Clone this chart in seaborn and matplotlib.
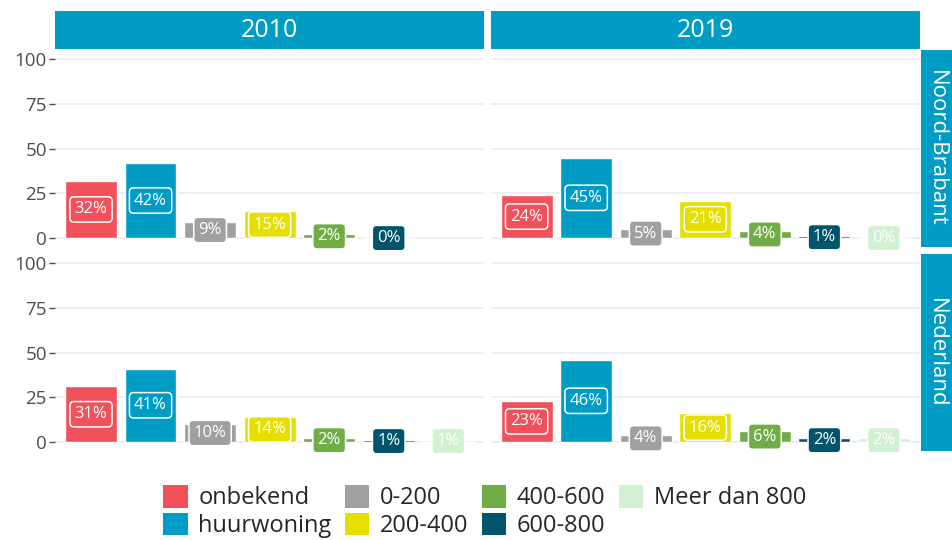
import numpy as np
import pandas as pd
import seaborn as sns
import matplotlib.pyplot as plt
from matplotlib.patches import Rectangle, Patch

# categories and shares (%) per region / year
klassen = ['onbekend', 'huurwoning', '0-200', '200-400', '400-600', '600-800', 'Meer dan 800']
kleuren = ['#F0515A', '#009CC5', '#A0A0A0', '#E6DF00', '#70AD47', '#00546B', '#D2F0D2']
regios = ['Noord-Brabant', 'Nederland']
jaren = ['2010', '2019']

nb_2010 = [32, 42, 9, 15, 2, 0, np.nan]
nb_2019 = [24, 45, 5, 21, 4, 1, 0]
nl_2010 = [31, 41, 10, 14, 2, 1, 1]
nl_2019 = [23, 46, 4, 16, 6, 2, 2]

waarden = {('Noord-Brabant', '2010'): nb_2010, ('Noord-Brabant', '2019'): nb_2019,
           ('Nederland', '2010'): nl_2010, ('Nederland', '2019'): nl_2019}

rows = []
for (regio, jaar), vals in waarden.items():
    for k, v in zip(klassen, vals):
        rows.append({'regio': regio, 'jaar': jaar, 'klasse': k, 'pct': v})
df = pd.DataFrame(rows)

sns.set_style("whitegrid", {'grid.color': '#EBEBEB'})
plt.rcParams['font.family'] = ['Open Sans', 'DejaVu Sans']

strip = '#009CC5'
fig, axes = plt.subplots(2, 2, figsize=(9.53, 5.4), dpi=100, sharex=True, sharey=True)
fig.subplots_adjust(left=0.058, right=0.965, top=0.907, bottom=0.165, wspace=0.016, hspace=0.036)

for r, regio in enumerate(regios):
    for c, jaar in enumerate(jaren):
        ax = axes[r, c]
        sub = df[(df.regio == regio) & (df.jaar == jaar)]
        sns.barplot(data=sub, x='klasse', y='pct', hue='klasse', order=klassen,
                    hue_order=klassen, palette=kleuren, saturation=1, width=0.87,
                    legend=False, ax=ax, zorder=2)
        for i, (k, v) in enumerate(zip(klassen, waarden[(regio, jaar)])):
            if np.isnan(v):
                continue
            ax.text(i, v / 2, f'{v:.0f}%', ha='center', va='center', color='white',
                    fontsize=12, zorder=4,
                    bbox=dict(boxstyle='round,pad=0.28,rounding_size=0.25',
                              fc=kleuren[i], ec='white', lw=1.1))
        ax.set_xlim(-0.6, 6.6)
        ax.set_ylim(-5, 105)
        ax.set_yticks([0, 25, 50, 75, 100])
        ax.xaxis.grid(False)
        ax.yaxis.grid(True, lw=1.1)
        ax.set_axisbelow(True)
        ax.set_xlabel('')
        ax.set_ylabel('')
        ax.set_xticks([])
        for s in ax.spines.values():
            s.set_visible(False)
        ax.tick_params(axis='y', length=4, width=1, color='#4D4D4D',
                       labelcolor='#4D4D4D', labelsize=13.5, pad=2, left=(c == 0))
        if r == 0:
            ax.add_patch(Rectangle((0, 1.005), 1, 0.195, transform=ax.transAxes,
                                   fc=strip, ec='none', clip_on=False))
            ax.text(0.5, 1.1, jaar, transform=ax.transAxes, ha='center', va='center',
                    color='white', fontsize=18)
        if c == 1:
            ax.add_patch(Rectangle((1.002, 0), 0.08, 1, transform=ax.transAxes,
                                   fc=strip, ec='none', clip_on=False))
            ax.text(1.04, 0.5, regio, transform=ax.transAxes, ha='center', va='center',
                    color='white', fontsize=16, rotation=-90)

handles = [Patch(fc=kl, ec='none') for kl in kleuren]
fig.legend(handles, klassen, loc='upper left', bbox_to_anchor=(0.171, 0.102), ncol=4,
           frameon=False, fontsize=17, handlelength=1.05, handleheight=1.1,
           handletextpad=0.45, columnspacing=0.55, labelspacing=0.1, borderpad=0,
           borderaxespad=0)

plt.savefig('out.png', dpi=100)
